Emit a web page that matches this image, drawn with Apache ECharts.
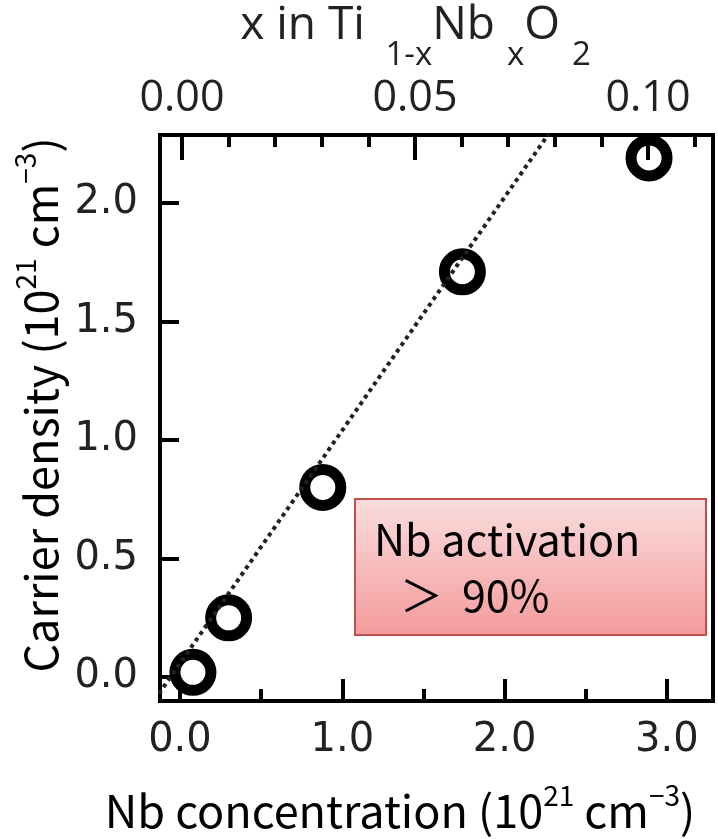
<!DOCTYPE html>
<html>
<head>
<meta charset="utf-8">
<script src="https://cdn.jsdelivr.net/npm/echarts@6/dist/echarts.min.js"></script>
<style>
html,body{margin:0;padding:0;background:#fff;}
#chart{width:718px;height:839px;}
</style>
</head>
<body>
<div id="chart"></div>
<script>
// Nb concentration (10^21 cm^-3) vs carrier density (10^21 cm^-3)
var nbConc = [0.08, 0.30, 0.88, 1.74, 2.89];
var carrier = [0.02, 0.25, 0.80, 1.71, 2.19];
// dotted guide line end points
var guideX = [-0.13, 2.27];
var guideY = [-0.07, 2.29];
// ticks
var bottomMajor = [0, 1, 2, 3];
var bottomMinor = [0.5, 1.5, 2.5];
var yMajor = [0, 0.5, 1, 1.5, 2];
var topMajor = [0, 0.05, 0.1];
var topMinor = [0.01, 0.02, 0.03, 0.04, 0.06, 0.07, 0.08, 0.09, 0.11];

var X_MIN = -0.123, X_MAX = 3.284;
var T_MIN = -0.00472, T_MAX = 0.11395;
var Y_MIN = -0.101, Y_MAX = 2.287;

var points = nbConc.map(function(v, i){ return [v, carrier[i]]; });
var guide = guideX.map(function(v, i){ return [v, guideY[i]]; });

var tickFont = 'DejaVu Sans';
var titleFont = '"Noto Sans CJK JP", "Noto Sans", sans-serif';

function xAxisBase(pos, min, max){
    return {
        type:'value', position:pos, min:min, max:max,
        axisLine:{show:false, onZero:false}, splitLine:{show:false},
        axisLabel:{show:false}, axisTick:{show:false}
    };
}

var xBottom = xAxisBase('bottom', X_MIN, X_MAX);
xBottom.axisTick = {show:true, inside:true, length:22, customValues:bottomMajor, lineStyle:{color:'#000', width:4}};
xBottom.axisLabel = {show:true, customValues:bottomMajor, margin:20, color:'#222', fontFamily:tickFont, fontSize:40,
    formatter:function(v){ return v.toFixed(1); }};
xBottom.name = '{t|Nb concentration (10}{sup|21}{t| cm}{sup|−3}{t|)}';
xBottom.nameLocation = 'middle';
xBottom.nameGap = 80;
xBottom.nameTextStyle = {padding:[0, 73, 0, 0], rich:{
    t:{fontFamily:titleFont, fontSize:45, color:'#000', lineHeight:52, verticalAlign:'bottom'},
    sup:{fontFamily:titleFont, fontSize:28, color:'#000', lineHeight:52, verticalAlign:'top'}
}};

var xBottomMinor = xAxisBase('bottom', X_MIN, X_MAX);
xBottomMinor.axisTick = {show:true, inside:true, length:12, customValues:bottomMinor, lineStyle:{color:'#000', width:4}};

var xTop = xAxisBase('top', T_MIN, T_MAX);
xTop.axisTick = {show:true, inside:true, length:25, customValues:topMajor, lineStyle:{color:'#000', width:4}};
xTop.axisLabel = {show:true, customValues:topMajor, margin:15, color:'#222', fontFamily:'"Open Sans"', fontSize:43,
    formatter:function(v){ return v.toFixed(2); }};
xTop.name = '{m|x in Ti }{s| 1-x}{m|Nb }{s|x}{m|O }{s|2}';
xTop.nameLocation = 'middle';
xTop.nameGap = 59;
xTop.nameTextStyle = {padding:[0, 42, 0, 0], rich:{
    m:{fontFamily:'"Open Sans"', fontSize:46, color:'#222', lineHeight:69, verticalAlign:'top'},
    s:{fontFamily:'"Open Sans"', fontSize:33, color:'#222', lineHeight:69, verticalAlign:'bottom'}
}};

var xTopMinor = xAxisBase('top', T_MIN, T_MAX);
xTopMinor.axisTick = {show:true, inside:true, length:12, customValues:topMinor, lineStyle:{color:'#000', width:4}};

var option = {
    backgroundColor:'#fff',
    animation:false,
    grid:{left:160, right:5, top:135, bottom:138, containLabel:false, outerBoundsMode:'none',
        show:true, borderColor:'#000', borderWidth:4, backgroundColor:'transparent'},
    xAxis:[xBottom, xTop, xBottomMinor, xTopMinor],
    yAxis:[{
        type:'value', position:'left', min:Y_MIN, max:Y_MAX,
        axisLine:{show:false, onZero:false}, splitLine:{show:false},
        axisTick:{show:true, inside:true, length:19, customValues:yMajor, lineStyle:{color:'#000', width:4}},
        axisLabel:{show:true, customValues:yMajor, margin:22, color:'#222', fontFamily:tickFont, fontSize:40,
            formatter:function(v){ return v.toFixed(1); }},
        name:'{t|Carrier density (10}{sup|21}{t| cm}{sup|−3}{t|)}',
        nameLocation:'middle', nameRotate:90, nameGap:96,
        nameTextStyle:{padding:[0, 0, 0, 26], rich:{
            t:{fontFamily:titleFont, fontSize:45, color:'#000', lineHeight:52, verticalAlign:'bottom'},
            sup:{fontFamily:titleFont, fontSize:28, color:'#000', lineHeight:52, verticalAlign:'top'}
        }}
    }],
    graphic:[
        {type:'rect', left:354, top:498, z:10,
         shape:{width:351, height:136},
         style:{
            fill:new echarts.graphic.LinearGradient(0, 0, 0, 1, [
                {offset:0, color:'#fadddd'}, {offset:1, color:'#f49a9b'}
            ]),
            stroke:'#c0504d', lineWidth:2
         }},
        {type:'text', left:374, top:518, z:11,
         style:{text:'Nb activation', font:'43px "Noto Sans CJK JP"', fill:'#000'}},
        {type:'text', left:400, top:574, z:11,
         style:{text:'＞', font:'43px "Noto Sans CJK JP"', fill:'#000'}},
        {type:'text', left:462, top:574, z:11,
         style:{text:'90%', font:'43px "Noto Sans CJK JP"', fill:'#000'}}
    ],
    series:[
        {
            type:'line', data:guide, xAxisIndex:0, yAxisIndex:0,
            symbol:'none', silent:true,
            lineStyle:{color:'#222', width:4, type:[4, 4]}
        },
        {
            type:'scatter', data:points, xAxisIndex:0, yAxisIndex:0,
            symbol:'circle', symbolSize:36,
            itemStyle:{color:'rgba(0,0,0,0)', borderColor:'#000', borderWidth:11, opacity:1}
        }
    ]
};

var chart = echarts.init(document.getElementById('chart'), null, {renderer:'canvas'});
chart.setOption(option);
</script>
</body>
</html>
